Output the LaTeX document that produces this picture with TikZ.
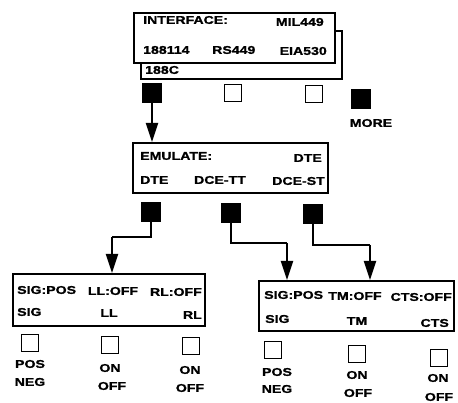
\documentclass[tikz,border=0pt]{standalone}
\usepackage{fontspec}
\newfontfamily\lab[FakeStretch=1.25,FakeBold=1.2]{Liberation Sans}
\usetikzlibrary{arrows.meta}
\begin{document}
\begin{tikzpicture}[x=1pt,y=-1pt,
  box/.style={draw,line width=1.7pt,fill=white,inner sep=0,anchor=north west},
  t/.style={inner sep=0,font=\lab\bfseries\fontsize{11.3}{13}\selectfont},
  sq/.style={draw,line width=1.4pt,fill=white,minimum size=17pt,inner sep=0},
  fsq/.style={draw,line width=1.4pt,fill=black,minimum size=18pt,inner sep=0},
  arr/.style={line width=1.8pt,-{Triangle[length=19pt,width=12pt]}},
  ln/.style={line width=1.8pt}]
\useasboundingbox (0,0) rectangle (458,403);
% top interface box with back panel
\node[box,minimum width=201pt,minimum height=48pt] (back) at (140,30) {};
\node[box,minimum width=201pt,minimum height=50pt] (iface) at (133,12) {};
\node[t,anchor=west] (i1) at (143,20) {INTERFACE:};
\node[t,anchor=east] (i2) at (324,22) {MIL449};
\node[t,anchor=west] (i3) at (143,50) {188114};
\node[t,anchor=west] (i4) at (212,50) {RS449};
\node[t,anchor=east] (i5) at (327,51) {EIA530};
\node[t,anchor=west] (i6) at (145,70) {188C};
% keys row 1
\node[fsq] (k1) at (152,93) {};
\node[sq] (k2) at (233,93) {};
\node[sq] (k3) at (314,94) {};
\node[fsq] (k4) at (361,99) {};
\node[t] (more) at (371,123) {MORE};
% emulate box
\node[box,minimum width=195pt,minimum height=50pt] (emu) at (132,142) {};
\node[t,anchor=west] (e1) at (140,156) {EMULATE:};
\node[t,anchor=east] (e2) at (322,158) {DTE};
\node[t,anchor=west] (e3) at (140,180) {DTE};
\node[t,anchor=center] (e4) at (220,180) {DCE-TT};
\node[t,anchor=east] (e5) at (325,181) {DCE-ST};
\draw[arr] (k1.south) -- (k1.south |- emu.north);
% keys row 2
\node[fsq] (m1) at (151,212) {};
\node[fsq] (m2) at (231,213) {};
\node[fsq] (m3) at (313,214) {};
% bottom-left box
\node[box,minimum width=192pt,minimum height=52pt] (bl) at (12,273) {};
\node[t,anchor=west] (b1) at (17,290) {SIG:POS};
\node[t,anchor=center] (b2) at (113,291) {LL:OFF};
\node[t,anchor=east] (b3) at (202,292) {RL:OFF};
\node[t,anchor=west] (b4) at (17,312) {SIG};
\node[t,anchor=center] (b5) at (109,313) {LL};
\node[t,anchor=east] (b6) at (202,315) {RL};
% bottom-right box
\node[box,minimum width=195pt,minimum height=50pt] (br) at (258,280) {};
\node[t,anchor=west] (r1) at (264,295) {SIG:POS};
\node[t,anchor=center] (r2) at (355,296) {TM:OFF};
\node[t,anchor=east] (r3) at (452,297) {CTS:OFF};
\node[t,anchor=west] (r4) at (265,319) {SIG};
\node[t,anchor=center] (r5) at (357,321) {TM};
\node[t,anchor=east] (r6) at (449,323) {CTS};
% connectors
\coordinate (c1) at (151,237);
\coordinate (c1b) at (112,237);
\coordinate (c2) at (231,243);
\coordinate (c2b) at (287,243);
\coordinate (c3) at (313,245);
\coordinate (c3b) at (370,245);
\draw[ln] (m1.south) -- (c1) -- (c1b);
\draw[arr] (c1b) -- (c1b |- bl.north);
\draw[ln] (m2.south) -- (c2) -- (c2b);
\draw[arr] (c2b) -- (c2b |- br.north);
\draw[ln] (m3.south) -- (c3) -- (c3b);
\draw[arr] (c3b) -- (c3b |- br.north);
% bottom keys left
\node[sq] (p1) at (30,343) {};
\node[sq] (p2) at (110,345) {};
\node[sq] (p3) at (191,346) {};
\node[t] (pl1) at (30,364) {POS};
\node[t] (pl2) at (30,382) {NEG};
\node[t] (pl3) at (110,368) {ON};
\node[t] (pl4) at (112,386) {OFF};
\node[t] (pl5) at (190,370) {ON};
\node[t] (pl6) at (190,388) {OFF};
% bottom keys right
\node[sq] (q1) at (273,350) {};
\node[sq] (q2) at (357,354) {};
\node[sq] (q3) at (439,358) {};
\node[t] (ql1) at (277,372) {POS};
\node[t] (ql2) at (277,389) {NEG};
\node[t] (ql3) at (357,375) {ON};
\node[t] (ql4) at (358,393) {OFF};
\node[t] (ql5) at (438,378) {ON};
\node[t] (ql6) at (439,397) {OFF};
\end{tikzpicture}
\end{document}
